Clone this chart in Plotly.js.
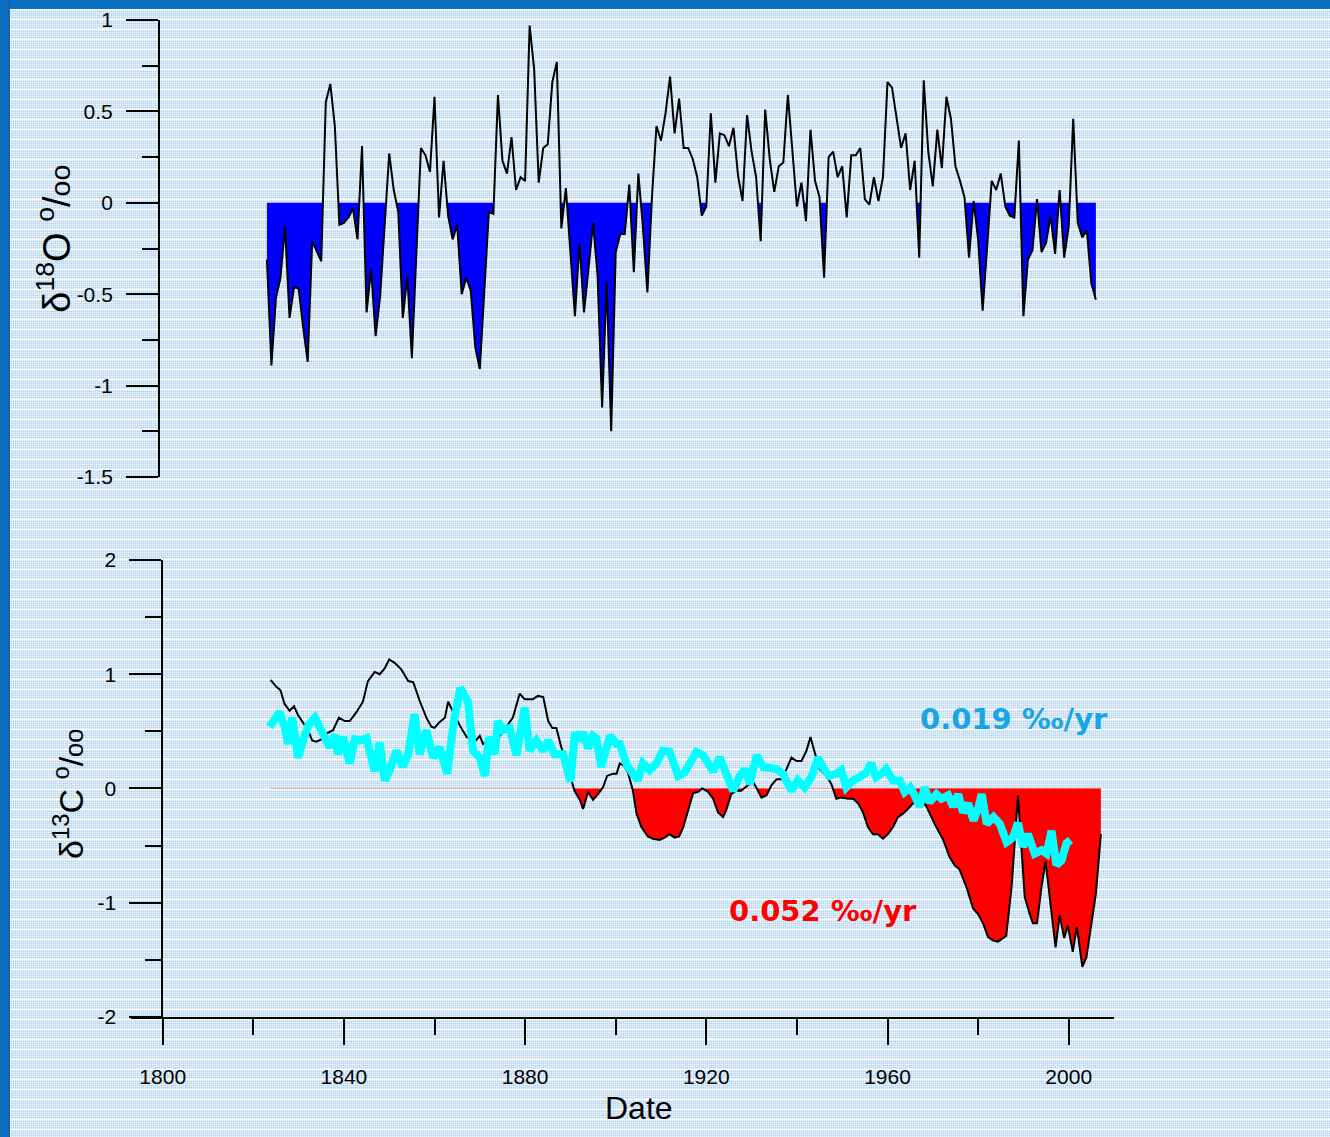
<!DOCTYPE html>
<html>
<head>
<meta charset="utf-8">
<script src="https://cdn.plot.ly/plotly-3.0.1.min.js"></script>
<style>
  html, body { margin: 0; padding: 0; }
  #frame {
    position: relative; width: 1330px; height: 1137px; overflow: hidden;
    background-color: #aed0f1;
    background-image:
      repeating-linear-gradient(to bottom, rgba(255,255,255,0) 0 9px, #ffffff 9px 10px),
      repeating-linear-gradient(to bottom, rgba(255,255,255,0.5) 0 1px, rgba(255,255,255,0) 1px 2px),
      repeating-linear-gradient(to right, rgba(255,255,255,0.5) 0 1px, rgba(255,255,255,0) 1px 2px);
  }
  #frame .bar-top { position: absolute; left: 0; top: 0; width: 1330px; height: 9px; background: #0b6fc1; }
  #frame .bar-left { position: absolute; left: 0; top: 0; width: 10px; height: 1137px; background: #0b6fc1; border-right: 2px solid #1b5fa6; box-sizing: border-box; }
  #chart { position: absolute; left: 0; top: 0; width: 1330px; height: 1137px; }
</style>
</head>
<body>
<div id="frame">
  <div id="chart"></div>
  <div class="bar-top"></div>
  <div class="bar-left"></div>
</div>
<script>
// Annual oxygen isotope record (per mil), 1823-2006
const o18Years = [
  1823,1824,1825,1826,1827,1828,1829,1830,1831,1832,1833,1834,1835,1836,1837,1838,1839,1840,
  1841,1842,1843,1844,1845,1846,1847,1848,1849,1850,1851,1852,1853,1854,1855,1856,1857,1858,
  1859,1860,1861,1862,1863,1864,1865,1866,1867,1868,1869,1870,1871,1872,1873,1874,1875,1876,
  1877,1878,1879,1880,1881,1882,1883,1884,1885,1886,1887,1888,1889,1890,1891,1892,1893,1894,
  1895,1896,1897,1898,1899,1900,1901,1902,1903,1904,1905,1906,1907,1908,1909,1910,1911,1912,
  1913,1914,1915,1916,1917,1918,1919,1920,1921,1922,1923,1924,1925,1926,1927,1928,1929,1930,
  1931,1932,1933,1934,1935,1936,1937,1938,1939,1940,1941,1942,1943,1944,1945,1946,1947,1948,
  1949,1950,1951,1952,1953,1954,1955,1956,1957,1958,1959,1960,1961,1962,1963,1964,1965,1966,
  1967,1968,1969,1970,1971,1972,1973,1974,1975,1976,1977,1978,1979,1980,1981,1982,1983,1984,
  1985,1986,1987,1988,1989,1990,1991,1992,1993,1994,1995,1996,1997,1998,1999,2000,2001,2002,
  2003,2004,2005,2006
];
const o18Values = [
  -0.31,-0.89,-0.52,-0.41,-0.13,-0.63,-0.46,-0.47,-0.68,-0.87,-0.21,-0.27,-0.32,0.55,0.65,0.42,-0.12,-0.11,
  -0.08,-0.03,-0.20,0.31,-0.60,-0.36,-0.73,-0.51,-0.13,0.27,0.07,-0.05,-0.63,-0.40,-0.85,-0.28,0.30,0.26,
  0.17,0.58,-0.08,0.23,-0.07,-0.20,-0.12,-0.50,-0.41,-0.48,-0.79,-0.91,-0.46,-0.05,-0.06,0.59,0.23,0.16,
  0.36,0.07,0.14,0.12,0.97,0.73,0.11,0.30,0.32,0.66,0.77,-0.14,0.08,-0.26,-0.62,-0.22,-0.60,-0.36,
  -0.11,-0.40,-1.12,-0.43,-1.25,-0.27,-0.17,-0.17,0.10,-0.38,0.16,-0.13,-0.49,0.03,0.42,0.34,0.49,0.69,
  0.38,0.57,0.30,0.30,0.24,0.14,-0.07,-0.02,0.49,0.11,0.38,0.37,0.31,0.41,0.15,0.01,0.48,0.28,
  0.14,-0.21,0.51,0.24,0.06,0.20,0.22,0.59,0.29,-0.02,0.11,-0.10,0.40,0.12,0.03,-0.41,0.25,0.28,
  0.14,0.20,-0.08,0.26,0.26,0.30,0.02,-0.01,0.14,0.01,0.14,0.66,0.63,0.47,0.30,0.38,0.07,0.23,
  -0.30,0.67,0.28,0.09,0.40,0.19,0.58,0.46,0.20,0.12,0.03,-0.30,0.01,-0.20,-0.59,-0.24,0.12,0.07,
  0.16,-0.02,-0.07,-0.08,0.34,-0.62,-0.31,-0.26,0.02,-0.27,-0.22,-0.07,-0.28,0.07,-0.30,-0.13,0.46,-0.11,
  -0.19,-0.15,-0.44,-0.53
];

// Carbon isotope record (per mil)
const c13Years = [
  1823.8,1825.1,1826.0,1826.9,1828.0,1829.0,1829.9,1831.0,1832.1,1833.0,1833.9,1835.0,1836.1,1837.6,
  1838.9,1840.2,1841.3,1842.8,1844.2,1845.3,1846.8,1847.9,1849.0,1850.0,1851.2,1852.7,1854.2,1855.3,
  1856.7,1858.2,1859.3,1860.0,1861.1,1862.3,1863.0,1864.1,1865.6,1867.1,1868.9,1870.0,1870.7,1872.2,
  1874.4,1877.3,1878.8,1879.9,1881.7,1882.8,1884.0,1885.1,1886.0,1886.9,1888.0,1889.1,1889.8,1890.9,
  1892.1,1892.8,1893.9,1895.0,1896.1,1897.2,1898.1,1899.4,1900.2,1900.9,1901.8,1902.7,1903.8,1904.6,
  1905.7,1907.1,1908.2,1909.7,1910.8,1911.9,1913.0,1914.0,1914.9,1916.0,1917.1,1918.2,1919.1,1920.4,
  1921.5,1922.6,1923.7,1924.4,1925.5,1926.6,1927.7,1928.9,1930.3,1931.4,1932.2,1933.3,1934.4,1935.5,
  1936.6,1937.7,1938.8,1939.9,1941.0,1942.1,1943.0,1943.9,1945.0,1946.5,1947.6,1948.7,1949.8,1951.3,
  1952.4,1953.5,1954.6,1955.7,1956.8,1957.9,1959.0,1960.1,1961.2,1962.3,1963.4,1964.5,1965.6,1967.5,
  1968.5,1970.4,1972.3,1973.7,1974.8,1975.9,1977.4,1978.9,1980.0,1981.1,1982.2,1983.3,1984.4,1985.5,
  1986.2,1987.4,1988.1,1988.8,1989.6,1990.3,1991.4,1992.1,1993.0,1994.0,1994.9,1996.2,1997.1,1998.0,
  1999.0,1999.8,2000.9,2001.8,2003.0,2003.9,2005.0,2006.0,2007.1
];
const c13Values = [
  0.95,0.89,0.86,0.74,0.68,0.72,0.64,0.58,0.51,0.42,0.41,0.43,0.48,0.51,
  0.62,0.59,0.59,0.67,0.76,0.94,1.02,1.00,1.05,1.13,1.10,1.04,0.94,0.93,
  0.77,0.62,0.54,0.53,0.58,0.62,0.76,0.67,0.55,0.45,0.41,0.46,0.39,0.42,
  0.46,0.62,0.83,0.78,0.78,0.81,0.80,0.59,0.53,0.53,0.36,0.23,0.13,-0.02,
  -0.10,-0.18,-0.03,-0.10,-0.05,0.01,0.11,0.13,0.13,0.22,0.20,0.14,-0.02,-0.22,
  -0.34,-0.42,-0.44,-0.45,-0.43,-0.40,-0.43,-0.42,-0.34,-0.19,-0.04,-0.03,0.00,-0.03,
  -0.09,-0.21,-0.25,-0.19,-0.05,-0.02,-0.02,0.02,0.06,-0.02,-0.08,-0.06,0.03,0.08,
  0.08,0.17,0.27,0.24,0.24,0.33,0.45,0.32,0.17,0.11,0.04,-0.09,-0.08,-0.09,
  -0.09,-0.13,-0.21,-0.34,-0.40,-0.40,-0.44,-0.40,-0.34,-0.25,-0.22,-0.18,-0.13,-0.13,
  -0.15,-0.31,-0.45,-0.60,-0.67,-0.71,-0.86,-1.05,-1.10,-1.18,-1.30,-1.33,-1.34,-1.31,
  -1.29,-0.86,-0.43,-0.06,-0.54,-0.95,-1.10,-1.18,-1.18,-0.86,-0.64,-1.10,-1.39,-1.11,
  -1.31,-1.20,-1.43,-1.21,-1.56,-1.48,-1.20,-0.92,-0.40
];

// Second carbon isotope record (per mil)
const c13bYears = [
  1823.6,1825.8,1826.9,1827.7,1828.6,1829.9,1831.0,1832.1,1833.6,1835.0,1836.9,1838.0,1838.7,1839.8,
  1841.3,1842.4,1843.5,1845.0,1846.8,1847.9,1849.0,1850.1,1851.6,1853.0,1854.2,1855.6,1856.7,1858.2,
  1859.7,1861.1,1862.8,1864.2,1865.7,1867.4,1868.5,1870.0,1871.1,1872.0,1873.3,1874.0,1875.1,1876.6,
  1878.1,1879.9,1881.0,1882.5,1884.0,1885.1,1886.5,1888.4,1890.0,1891.0,1892.1,1892.9,1893.9,1895.0,
  1895.7,1896.8,1898.7,1900.2,1900.9,1902.5,1904.9,1906.0,1907.5,1909.0,1910.4,1911.9,1913.8,1915.2,
  1917.8,1919.3,1920.4,1921.5,1923.0,1924.1,1925.9,1927.4,1928.5,1929.6,1931.1,1932.5,1934.0,1935.5,
  1936.9,1938.8,1940.2,1941.7,1943.2,1944.7,1945.8,1947.2,1948.7,1949.8,1950.9,1952.4,1953.9,1955.3,
  1956.4,1957.5,1959.0,1959.7,1961.2,1962.7,1963.8,1965.0,1966.0,1967.1,1968.2,1969.3,1970.8,1971.9,
  1973.4,1974.5,1975.6,1976.7,1977.8,1979.0,1980.1,1980.8,1981.9,1983.4,1984.8,1986.3,1987.7,1988.8,
  1989.9,1991.0,1992.5,1994.0,1995.1,1996.2,1997.3,1998.4,1999.5,2000.4
];
const c13bValues = [
  0.54,0.67,0.54,0.39,0.62,0.27,0.42,0.55,0.62,0.51,0.36,0.47,0.30,0.45,
  0.22,0.43,0.42,0.44,0.15,0.40,0.07,0.16,0.33,0.19,0.30,0.65,0.30,0.51,
  0.27,0.36,0.13,0.57,0.88,0.76,0.33,0.27,0.11,0.45,0.30,0.59,0.51,0.53,
  0.29,0.71,0.33,0.42,0.33,0.42,0.30,0.30,0.06,0.49,0.42,0.49,0.35,0.46,
  0.44,0.19,0.46,0.39,0.39,0.20,0.07,0.22,0.16,0.22,0.33,0.32,0.11,0.14,
  0.32,0.29,0.20,0.15,0.27,0.14,-0.02,0.11,0.17,0.04,0.29,0.19,0.18,0.17,
  0.13,-0.02,0.07,0.01,0.10,0.27,0.18,0.11,0.13,0.16,0.01,0.07,0.10,0.14,
  0.22,0.10,0.14,0.17,0.07,0.07,-0.03,0.01,-0.06,-0.16,0.01,-0.12,-0.05,-0.09,
  -0.06,-0.16,-0.05,-0.21,-0.13,-0.28,-0.16,-0.05,-0.31,-0.25,-0.31,-0.47,-0.43,-0.30,
  -0.51,-0.40,-0.57,-0.54,-0.57,-0.37,-0.67,-0.63,-0.48,-0.45
];

// Axis ticks
const xTickVals = [1800, 1840, 1880, 1920, 1960, 2000];
const xTickText = ['1800', '1840', '1880', '1920', '1960', '2000'];
const xMinorVals = [1820, 1860, 1900, 1940, 1980];
const o18TickVals = [-1.5, -1, -0.5, 0, 0.5, 1];
const o18TickText = ['-1.5', '-1', '-0.5', '0', '0.5', '1'];
const o18MinorVals = [-1.25, -0.75, -0.25, 0.25, 0.75];
const c13TickVals = [-2, -1, 0, 1, 2];
const c13TickText = ['-2', '-1', '0', '1', '2'];
const c13MinorVals = [-1.5, -0.5, 0.5, 1.5];

// Trend labels
const trendLabels = ['0.019 ‰/yr', '0.052 ‰/yr'];

// Negative part of a series, with the zero crossings inserted so the
// shaded area follows the line exactly.
function negativePart(xs, ys) {
  const ox = [], oy = [];
  for (let i = 0; i < xs.length; i++) {
    if (i > 0) {
      const y0 = ys[i - 1], y1 = ys[i];
      if ((y0 < 0 && y1 > 0) || (y0 > 0 && y1 < 0)) {
        const t = y0 / (y0 - y1);
        ox.push(xs[i - 1] + t * (xs[i] - xs[i - 1]));
        oy.push(0);
      }
    }
    ox.push(xs[i]);
    oy.push(Math.min(ys[i], 0));
  }
  return { x: ox, y: oy };
}

const o18Neg = negativePart(o18Years, o18Values);
const c13Neg = negativePart(c13Years, c13Values);

const traces = [
  { x: o18Neg.x, y: o18Neg.y, xaxis: 'x', yaxis: 'y2', type: 'scatter', mode: 'lines',
    fill: 'tozeroy', fillcolor: '#0000ff', line: { width: 0, color: '#0000ff' }, hoverinfo: 'skip' },
  { x: o18Years, y: o18Values, xaxis: 'x', yaxis: 'y2', type: 'scatter', mode: 'lines',
    line: { color: '#000000', width: 2 } },
  { x: c13Neg.x, y: c13Neg.y, xaxis: 'x', yaxis: 'y', type: 'scatter', mode: 'lines',
    fill: 'tozeroy', fillcolor: '#ff0000', line: { width: 0, color: '#ff0000' }, hoverinfo: 'skip' },
  { x: [c13Years[0], c13Years[c13Years.length - 1]], y: [0, 0], xaxis: 'x', yaxis: 'y',
    type: 'scatter', mode: 'lines', line: { color: 'rgba(255,80,80,0.45)', width: 1 }, hoverinfo: 'skip' },
  { x: c13Years, y: c13Values, xaxis: 'x', yaxis: 'y', type: 'scatter', mode: 'lines',
    line: { color: '#000000', width: 2 } },
  { x: c13bYears, y: c13bValues, xaxis: 'x', yaxis: 'y', type: 'scatter', mode: 'lines',
    line: { color: '#00ffff', width: 8 } }
];

const tickFont = { family: 'Liberation Sans, Arial, sans-serif', size: 21, color: '#000000' };

const yCommon = {
  anchor: 'free', showline: true, linecolor: '#000000', linewidth: 2,
  ticks: 'outside', ticklen: 32, tickwidth: 2, tickcolor: '#000000',
  showgrid: false, zeroline: false, tickfont: tickFont, ticklabelstandoff: 9,
  tickmode: 'array'
};

const layout = {
  width: 1330, height: 1137,
  margin: { l: 131, r: 216, t: 20, b: 120 },
  paper_bgcolor: 'rgba(0,0,0,0)', plot_bgcolor: 'rgba(0,0,0,0)',
  showlegend: false,
  font: { family: 'Liberation Sans, Arial, sans-serif', color: '#000000' },
  xaxis: {
    range: [1793, 2010], anchor: 'y', showline: true, linecolor: '#000000', linewidth: 2,
    ticks: 'outside', ticklen: 26, tickwidth: 2, tickcolor: '#000000',
    tickmode: 'array', tickvals: xTickVals, ticktext: xTickText,
    minor: { tickmode: 'array', tickvals: xMinorVals, ticks: 'outside', ticklen: 16, tickwidth: 2, tickcolor: '#000000', showgrid: false },
    showgrid: false, zeroline: false, tickfont: tickFont, ticklabelstandoff: 14
  },
  yaxis: Object.assign({}, yCommon, {
    domain: [0, 0.4584], range: [-2, 2], position: 0.032,
    tickvals: c13TickVals, ticktext: c13TickText,
    minor: { tickmode: 'array', tickvals: c13MinorVals, ticks: 'outside', ticklen: 16, tickwidth: 2, tickcolor: '#000000', showgrid: false }
  }),
  yaxis2: Object.assign({}, yCommon, {
    domain: [0.5416, 1], range: [-1.5, 1], position: 0.0285,
    tickvals: o18TickVals, ticktext: o18TickText,
    minor: { tickmode: 'array', tickvals: o18MinorVals, ticks: 'outside', ticklen: 16, tickwidth: 2, tickcolor: '#000000', showgrid: false }
  }),
  annotations: [
    { text: 'δ<sup>18</sup>O <sup>o</sup>/<span style="font-size:75%">oo</span>', xref: 'paper', yref: 'paper',
      x: -0.078, y: 0.781, xanchor: 'center', yanchor: 'middle', textangle: -90, showarrow: false,
      font: { family: 'Liberation Sans, Arial, sans-serif', size: 38, color: '#000000' } },
    { text: 'δ<sup>13</sup>C <sup>o</sup>/<span style="font-size:75%">oo</span>', xref: 'paper', yref: 'paper',
      x: -0.063, y: 0.2237, xanchor: 'center', yanchor: 'middle', textangle: -90, showarrow: false,
      font: { family: 'Liberation Sans, Arial, sans-serif', size: 34, color: '#000000' } },
    { text: 'Date', xref: 'x', yref: 'paper', x: 1905.1, y: -0.0913, xanchor: 'center', yanchor: 'middle',
      showarrow: false, font: { family: 'Liberation Sans, Arial, sans-serif', size: 32, color: '#000000' } },
    { text: trendLabels[0], xref: 'x', yref: 'y', x: 1987.9, y: 0.61, xanchor: 'center', yanchor: 'middle',
      showarrow: false, font: { family: 'DejaVu Sans, sans-serif', size: 29, color: '#17a5e6', weight: 'bold' } },
    { text: trendLabels[1], xref: 'x', yref: 'y', x: 1945.8, y: -1.07, xanchor: 'center', yanchor: 'middle',
      showarrow: false, font: { family: 'DejaVu Sans, sans-serif', size: 29, color: '#ff0000', weight: 'bold' } }
  ]
};

Plotly.newPlot('chart', traces, layout, { staticPlot: true, displayModeBar: false });
</script>
</body>
</html>
